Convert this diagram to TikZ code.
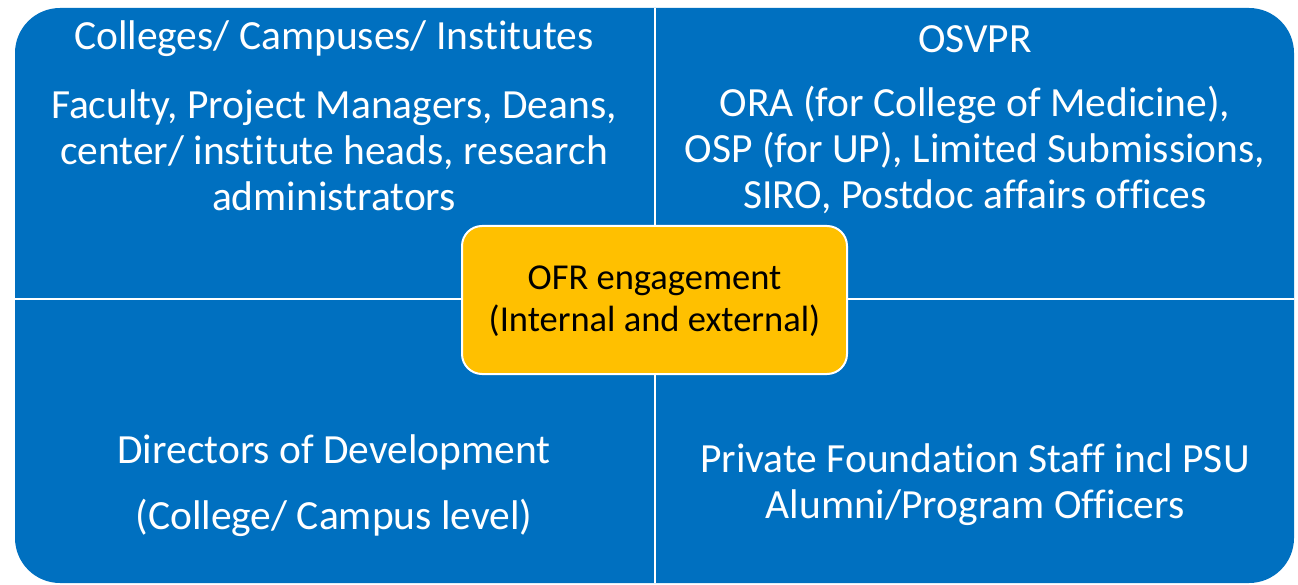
\documentclass[tikz,border=0pt]{standalone}
\usepackage{fontspec}
\setmainfont[Ligatures=NoCommon]{Carlito}
\definecolor{qblue}{HTML}{0070C0}
\definecolor{qgold}{HTML}{FFC000}
\begin{document}
\begin{tikzpicture}[x=1pt,y=-1pt,
  qtext/.style={text=white,align=center,font=\fontsize{41.5}{46}\selectfont,inner sep=0pt},
  ctext/.style={text=black,align=center,font=\fontsize{36.5}{42}\selectfont,inner sep=0pt}]
\useasboundingbox (0,0) rectangle (1298,585);
\fill[qblue,rounded corners=45pt] (15,8) rectangle (1294,583);
\draw[white,line width=2.5pt] (655,8) -- (655,583);
\draw[white,line width=2.5pt] (15,299) -- (1294,299);
\node[draw=white,line width=2pt,fill=qgold,rounded corners=20pt,minimum width=385pt,minimum height=148pt] (center) at (654.5,300) {};
\node[ctext] (ctxt) at (654.5,301) {OFR engagement\\(Internal and external)};
\node[qtext] (q1t) at (334,39) {Colleges/ Campuses/ Institutes};
\node[qtext] (q1b) at (334,150) {Faculty, Project Managers, Deans,\\center/ institute heads, research\\administrators};
\node[qtext] (q2t) at (975,39) {OSVPR};
\node[qtext] (q2b) at (975,150) {ORA (for College of Medicine),\\OSP (for UP), Limited Submissions,\\SIRO, Postdoc affairs offices};
\node[qtext] (q3a) at (334,452) {Directors of Development};
\node[qtext] (q3b) at (334,518) {(College/ Campus level)};
\node[qtext] (q4) at (975,485) {Private Foundation Staff incl PSU\\Alumni/Program Officers};
\end{tikzpicture}
\end{document}
